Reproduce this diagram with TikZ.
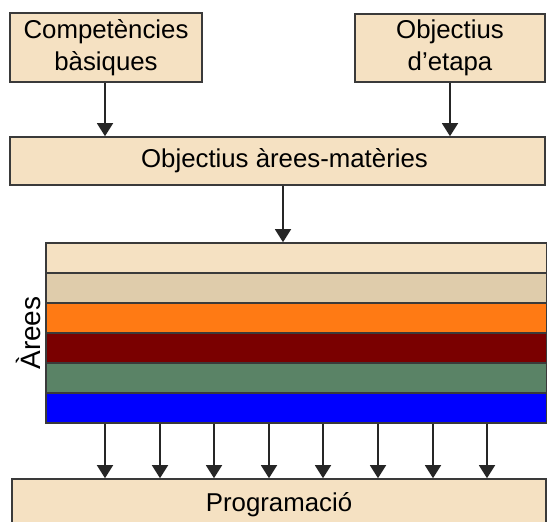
\documentclass[tikz,border=0pt]{standalone}
\usepackage{fontspec}
\setmainfont{Liberation Sans}
\usetikzlibrary{arrows.meta}
\definecolor{boxfill}{HTML}{F5E1C2}
\definecolor{tanfill}{HTML}{DFCCAB}
\definecolor{orangefill}{HTML}{FF7A14}
\definecolor{maroonfill}{HTML}{7A0000}
\definecolor{greenfill}{HTML}{5A8366}
\definecolor{bluefill}{HTML}{0000FF}
\definecolor{edgecol}{HTML}{3A3A3A}
\tikzset{
  box/.style={draw=edgecol, line width=1.6pt, fill=boxfill, rectangle, inner sep=0pt,
    align=center, font=\fontsize{25.8}{31.5}\selectfont},
  bar/.style={draw=edgecol, line width=1.6pt, rectangle, inner sep=0pt,
    minimum width=501pt, minimum height=30pt},
  arr/.style={line width=1.5pt, draw=black!85, -{Triangle[width=16pt,length=13pt]}}
}
\begin{document}
\begin{tikzpicture}[x=1pt,y=-1pt]
\useasboundingbox (0,0) rectangle (547,522);
\node[box, minimum width=192pt, minimum height=69pt] (comp) at (106,47.5) {Competències\\bàsiques};
\node[box, minimum width=190pt, minimum height=68pt] (etapa) at (450,48) {Objectius\\d’etapa};
\node[box, minimum width=535pt, minimum height=48pt] (arees) at (277.5,161) {\hspace{14pt}Objectius àrees-matèries};
\node[bar, fill=boxfill] (b1) at (296.5,258) {};
\node[bar, fill=tanfill] (b2) at (296.5,288) {};
\node[bar, fill=orangefill] (b3) at (296.5,318) {};
\node[bar, fill=maroonfill] (b4) at (296.5,348) {};
\node[bar, fill=greenfill] (b5) at (296.5,378) {};
\node[bar, fill=bluefill] (b6) at (296.5,408) {};
\node[rotate=90, font=\fontsize{28}{32}\selectfont] (lab) at (28,333) {Àrees};
\node[box, minimum width=534pt, minimum height=52pt] (prog) at (279,505) {\raisebox{4pt}{Programació}};
\draw[arr] (comp.south -| 105,0) -- (arees.north -| 105,0);
\draw[arr] (etapa.south -| 450,0) -- (arees.north -| 450,0);
\draw[arr] (arees.south -| 283,0) -- (b1.north -| 283,0);
\foreach \x in {105,160,214,269,323,378,433,487}{
  \draw[arr] (b6.south -| \x,0) -- (prog.north -| \x,0);
}
\end{tikzpicture}
\end{document}
